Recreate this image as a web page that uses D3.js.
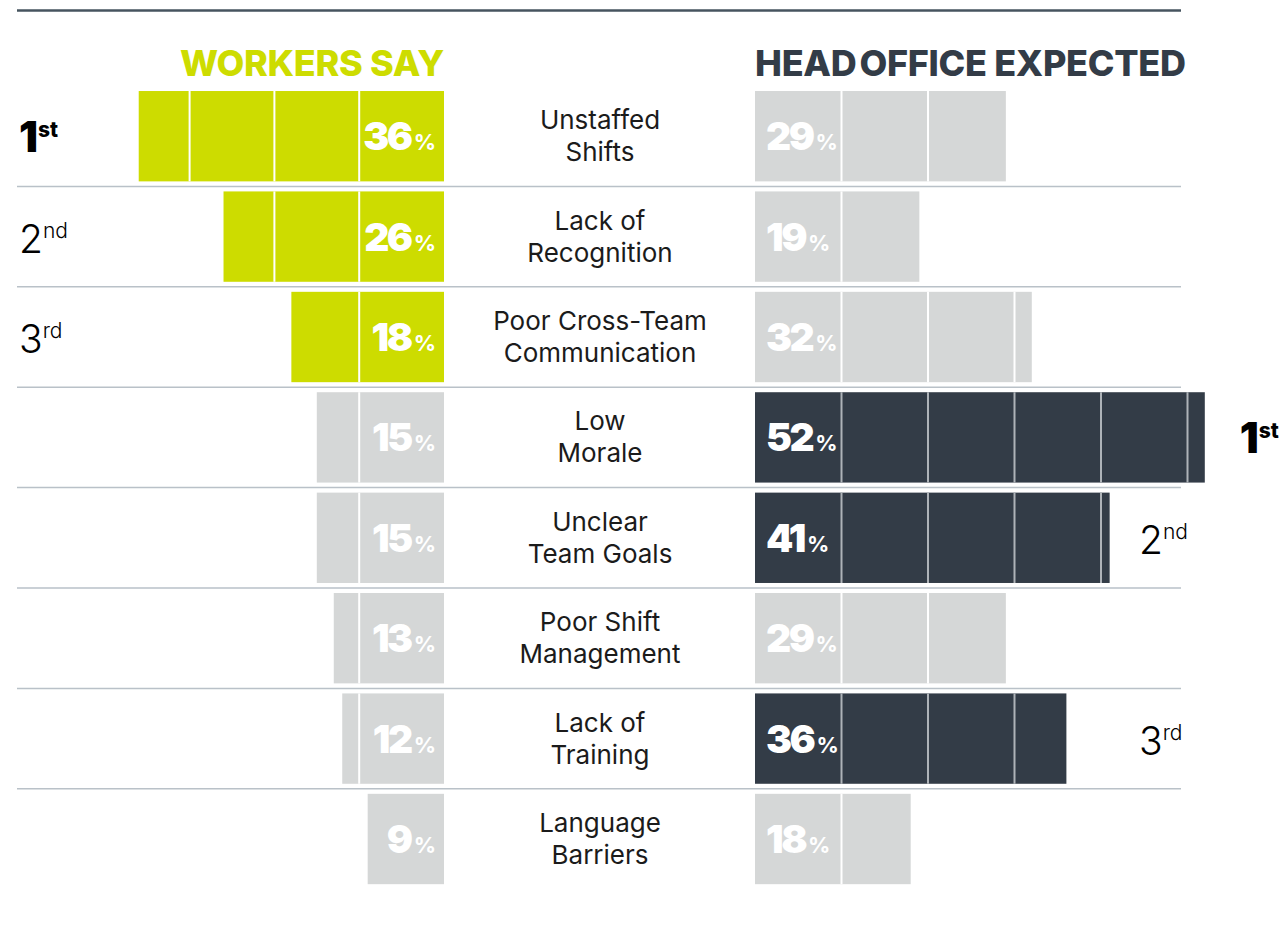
<!DOCTYPE html>
<html>
<head>
<meta charset="utf-8">
<script src="https://d3js.org/d3.v7.min.js"></script>
<style>
  body { margin: 0; background: #fff; }
  svg { display: block; font-family: Inter, "Noto Sans", sans-serif; }
</style>
</head>
<body>
<svg id="chart"></svg>
<script>
// values (percent)
const issues = [
  ["Unstaffed", "Shifts"],
  ["Lack of", "Recognition"],
  ["Poor Cross-Team", "Communication"],
  ["Low", "Morale"],
  ["Unclear", "Team Goals"],
  ["Poor Shift", "Management"],
  ["Lack of", "Training"],
  ["Language", "Barriers"]
];
const workers = [36, 26, 18, 15, 15, 13, 12, 9];
const headOffice = [29, 19, 32, 52, 41, 29, 36, 18];
const rankNames = [["1", "st"], ["2", "nd"], ["3", "rd"]];

const width = 1281;
const height = 928;
const colors = {
  green: "#cddc00",
  dark: "#333c47",
  grey: "#d5d7d7",
  rule: "#b9c1c8",
  top: "#46545f"
};

const svg = d3.select("#chart")
  .attr("width", width)
  .attr("height", height);

const y = d3.scaleBand()
  .domain(d3.range(issues.length))
  .range([86, 86 + 100.4 * issues.length])
  .paddingInner(0.1)
  .paddingOuter(0.05);

const leftEdge = 444;
const rightEdge = 755;
const xLeft = d3.scaleLinear().domain([0, 10]).range([0, 84.8]);
const xRight = d3.scaleLinear().domain([0, 10]).range([0, 86.5]);

// rank of each value within its series (0 = highest)
function ranks(values) {
  const order = d3.range(values.length).sort((a, b) => values[b] - values[a]);
  const r = new Array(values.length);
  order.forEach((idx, k) => r[idx] = k);
  return r;
}
const wRank = ranks(workers);
const hRank = ranks(headOffice);

// top rule
svg.append("line")
  .attr("x1", 17).attr("x2", 1181)
  .attr("y1", 10.5).attr("y2", 10.5)
  .attr("stroke", colors.top)
  .attr("stroke-width", 2.5);

// headings
svg.append("text")
  .attr("x", leftEdge).attr("y", 76)
  .attr("text-anchor", "end")
  .attr("font-size", 36).attr("font-weight", 800)
  .attr("letter-spacing", -0.3)
  .attr("fill", colors.green)
  .text("WORKERS SAY");
const ho = svg.append("text")
  .attr("x", rightEdge).attr("y", 76)
  .attr("font-size", 36).attr("font-weight", 800)
  .attr("letter-spacing", -0.3)
  .attr("fill", colors.dark);
ho.append("tspan").text("HEAD");
ho.append("tspan").attr("dx", 3).text("OFFICE EXPECTED");

// row separators
const seps = d3.range(1, issues.length);
svg.selectAll(".sep")
  .data(seps)
  .join("line")
  .attr("class", "sep")
  .attr("x1", 17).attr("x2", 1181)
  .attr("y1", i => 86 + 100.4 * i)
  .attr("y2", i => 86 + 100.4 * i)
  .attr("stroke", colors.rule)
  .attr("stroke-width", 1.5);

const rows = svg.selectAll(".row")
  .data(issues.map((label, i) => ({ label, i, w: workers[i], h: headOffice[i] })))
  .join("g")
  .attr("class", "row")
  .attr("transform", d => `translate(0,${y(d.i)})`);

const bh = y.bandwidth();

// workers bars (grow to the left)
rows.append("rect")
  .attr("x", d => leftEdge - xLeft(d.w))
  .attr("width", d => xLeft(d.w))
  .attr("height", bh)
  .attr("fill", d => wRank[d.i] < 3 ? colors.green : colors.grey);

// head office bars (grow to the right)
rows.append("rect")
  .attr("x", rightEdge)
  .attr("width", d => xRight(d.h))
  .attr("height", bh)
  .attr("fill", d => hRank[d.i] < 3 ? colors.dark : colors.grey);

// 10% dividers
rows.each(function (d) {
  const g = d3.select(this);
  g.selectAll(".dl")
    .data(d3.range(10, d.w, 10))
    .join("line")
    .attr("x1", t => leftEdge - xLeft(t))
    .attr("x2", t => leftEdge - xLeft(t))
    .attr("y1", 0).attr("y2", bh)
    .attr("stroke", "#fff").attr("stroke-width", 2);
  g.selectAll(".dr")
    .data(d3.range(10, d.h, 10))
    .join("line")
    .attr("x1", t => rightEdge + xRight(t))
    .attr("x2", t => rightEdge + xRight(t))
    .attr("y1", 0).attr("y2", bh)
    .attr("stroke", hRank[d.i] < 3 ? "#aeb3b8" : "#fff")
    .attr("stroke-width", 2);
});

// value labels
function pct(sel, val) {
  sel.append("tspan")
    .attr("font-size", 39).attr("font-weight", 900)
    .attr("letter-spacing", -2.5)
    .text(val);
  sel.append("tspan")
    .attr("font-size", 22).attr("font-weight", 700)
    .attr("dx", 3)
    .text("%");
}
rows.append("text")
  .attr("x", leftEdge - 8)
  .attr("y", bh / 2 + 14)
  .attr("text-anchor", "end")
  .attr("fill", "#fff")
  .each(function (d) { pct(d3.select(this), d.w); });
rows.append("text")
  .attr("x", rightEdge + 11)
  .attr("y", bh / 2 + 14)
  .attr("fill", "#fff")
  .each(function (d) { pct(d3.select(this), d.h); });

// issue labels
const lbl = rows.append("text")
  .attr("x", 600)
  .attr("text-anchor", "middle")
  .attr("font-size", 26)
  .attr("fill", "#1b1b1b");
lbl.append("tspan").attr("x", 600).attr("y", bh / 2 - 7).text(d => d.label[0]);
lbl.append("tspan").attr("x", 600).attr("y", bh / 2 + 25).text(d => d.label[1]);

// rank markers
function rankText(sel, k, anchorX) {
  const t = sel.append("text")
    .attr("x", anchorX)
    .attr("y", bh / 2 + 16)
    .attr("fill", "#000");
  t.append("tspan")
    .attr("font-size", k === 0 ? 42 : 39)
    .attr("font-weight", k === 0 ? 900 : 300)
    .attr("letter-spacing", k === 0 ? -1 : 0)
    .text(rankNames[k][0]);
  t.append("tspan")
    .attr("font-size", 21)
    .attr("font-weight", k === 0 ? 800 : 300)
    .attr("dx", k === 0 ? 1 : 0)
    .attr("dy", -15)
    .text(rankNames[k][1]);
}
rows.filter(d => wRank[d.i] < 3).each(function (d) {
  rankText(d3.select(this), wRank[d.i], 19);
});
rows.filter(d => hRank[d.i] < 3).each(function (d) {
  const end = rightEdge + xRight(d.h);
  rankText(d3.select(this), hRank[d.i], end > 1181 ? end + 35 : 1139);
});
</script>
</body>
</html>
